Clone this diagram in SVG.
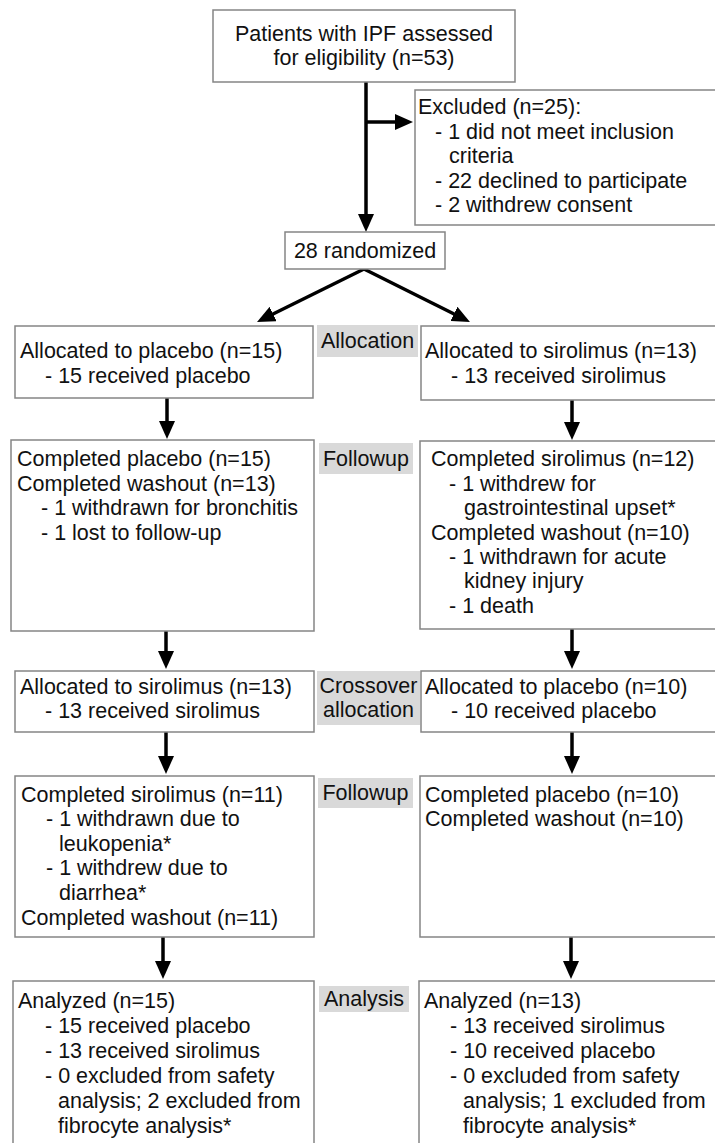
<svg xmlns="http://www.w3.org/2000/svg" width="715" height="1143" viewBox="0 0 715 1143">
<style>
.box{fill:#fff;stroke:#858585;stroke-width:1.5}
.lab{fill:#d9d9d9}
.t{font-family:"Liberation Sans",Arial,Helvetica,sans-serif;font-size:21.5px;fill:#111}
.c{text-anchor:middle}
.ar{stroke:#000;stroke-width:3.5;fill:none;marker-end:url(#ah)}
</style>
<defs>
<marker id="ah" viewBox="0 0 18 16" refX="12" refY="8" markerWidth="18" markerHeight="16" markerUnits="userSpaceOnUse" orient="auto">
<path d="M0,0 L18,8 L0,16 z" fill="#000"/>
</marker>
</defs>
<rect width="715" height="1143" fill="#fff"/>

<g id="connectors">
<line class="ar" x1="366" y1="82" x2="366" y2="226"/>
<line class="ar" x1="366" y1="122" x2="407" y2="122"/>
<line class="ar" x1="364" y1="269" x2="262.4" y2="319.3"/>
<line class="ar" x1="364" y1="269" x2="464.6" y2="319.3"/>
<line class="ar" x1="167" y1="398" x2="167" y2="433"/>
<line class="ar" x1="572" y1="400" x2="572" y2="434"/>
<line class="ar" x1="166" y1="631" x2="166" y2="663"/>
<line class="ar" x1="572" y1="629" x2="572" y2="663"/>
<line class="ar" x1="166" y1="732" x2="166" y2="768"/>
<line class="ar" x1="572" y1="732" x2="572" y2="768"/>
<line class="ar" x1="163" y1="937" x2="163" y2="973"/>
<line class="ar" x1="571" y1="937" x2="571" y2="973"/>
</g>

<g id="assessed">
<rect class="box" x="213" y="10" width="302" height="72"/>
<text class="t c" x="364" y="41">Patients with IPF assessed</text>
<text class="t c" x="364" y="65">for eligibility (n=53)</text>
</g>

<g id="excluded">
<rect class="box" x="415" y="90" width="302" height="135"/>
<text class="t" x="418" y="114">Excluded (n=25):</text>
<text class="t" x="435" y="139">- 1 did not meet inclusion</text>
<text class="t" x="449" y="163">criteria</text>
<text class="t" x="435" y="188">- 22 declined to participate</text>
<text class="t" x="435" y="212">- 2 withdrew consent</text>
</g>

<g id="randomized">
<rect class="box" x="285" y="232" width="160" height="37"/>
<text class="t c" x="365" y="258">28 randomized</text>
</g>

<g id="alloc-placebo">
<rect class="box" x="15" y="326" width="298" height="72"/>
<text class="t" x="20" y="358">Allocated to placebo (n=15)</text>
<text class="t" x="45" y="383">- 15 received placebo</text>
</g>
<g id="label-allocation">
<rect class="lab" x="317" y="325" width="101" height="32"/>
<text class="t c" x="367.5" y="348">Allocation</text>
</g>
<g id="alloc-sirolimus">
<rect class="box" x="421" y="326" width="296" height="74"/>
<text class="t" x="425" y="358">Allocated to sirolimus (n=13)</text>
<text class="t" x="451" y="383">- 13 received sirolimus</text>
</g>

<g id="followup-placebo">
<rect class="box" x="11" y="440" width="303" height="191"/>
<text class="t" x="17" y="466">Completed placebo (n=15)</text>
<text class="t" x="17" y="491">Completed washout (n=13)</text>
<text class="t" x="41" y="515">- 1 withdrawn for bronchitis</text>
<text class="t" x="41" y="540">- 1 lost to follow-up</text>
</g>
<g id="label-followup1">
<rect class="lab" x="319" y="443" width="94" height="31"/>
<text class="t c" x="366" y="466">Followup</text>
</g>
<g id="followup-sirolimus">
<rect class="box" x="420" y="441" width="297" height="188"/>
<text class="t" x="431" y="466">Completed sirolimus (n=12)</text>
<text class="t" x="449" y="491">- 1 withdrew for</text>
<text class="t" x="464" y="515">gastrointestinal upset*</text>
<text class="t" x="431" y="540">Completed washout (n=10)</text>
<text class="t" x="449" y="564">- 1 withdrawn for acute</text>
<text class="t" x="464" y="588">kidney injury</text>
<text class="t" x="449" y="613">- 1 death</text>
</g>

<g id="cross-sirolimus">
<rect class="box" x="15" y="671" width="299" height="61"/>
<text class="t" x="20" y="694">Allocated to sirolimus (n=13)</text>
<text class="t" x="45" y="718">- 13 received sirolimus</text>
</g>
<g id="label-crossover">
<rect class="lab" x="317" y="671" width="103" height="54"/>
<text class="t c" x="368.5" y="693">Crossover</text>
<text class="t c" x="368.5" y="717">allocation</text>
</g>
<g id="cross-placebo">
<rect class="box" x="421" y="671" width="296" height="61"/>
<text class="t" x="425" y="694">Allocated to placebo (n=10)</text>
<text class="t" x="451" y="718">- 10 received placebo</text>
</g>

<g id="followup2-sirolimus">
<rect class="box" x="15" y="776" width="299" height="161"/>
<text class="t" x="21" y="802">Completed sirolimus (n=11)</text>
<text class="t" x="46" y="826">- 1 withdrawn due to</text>
<text class="t" x="59" y="851">leukopenia*</text>
<text class="t" x="46" y="875">- 1 withdrew due to</text>
<text class="t" x="59" y="900">diarrhea*</text>
<text class="t" x="21" y="925">Completed washout (n=11)</text>
</g>
<g id="label-followup2">
<rect class="lab" x="318" y="778" width="95" height="30"/>
<text class="t c" x="365.5" y="800">Followup</text>
</g>
<g id="followup2-placebo">
<rect class="box" x="420" y="776" width="297" height="161"/>
<text class="t" x="425" y="802">Completed placebo (n=10)</text>
<text class="t" x="425" y="826">Completed washout (n=10)</text>
</g>

<g id="analysis-left">
<rect class="box" x="13" y="981" width="301" height="170"/>
<text class="t" x="18" y="1008">Analyzed (n=15)</text>
<text class="t" x="45" y="1033">- 15 received placebo</text>
<text class="t" x="45" y="1058">- 13 received sirolimus</text>
<text class="t" x="45" y="1083">- 0 excluded from safety</text>
<text class="t" x="58" y="1108">analysis; 2 excluded from</text>
<text class="t" x="58" y="1133">fibrocyte analysis*</text>
</g>
<g id="label-analysis">
<rect class="lab" x="319" y="986" width="90" height="26"/>
<text class="t c" x="364" y="1006">Analysis</text>
</g>
<g id="analysis-right">
<rect class="box" x="419" y="981" width="298" height="170"/>
<text class="t" x="424" y="1008">Analyzed (n=13)</text>
<text class="t" x="450" y="1033">- 13 received sirolimus</text>
<text class="t" x="450" y="1058">- 10 received placebo</text>
<text class="t" x="450" y="1083">- 0 excluded from safety</text>
<text class="t" x="463" y="1108">analysis; 1 excluded from</text>
<text class="t" x="463" y="1133">fibrocyte analysis*</text>
</g>
</svg>
